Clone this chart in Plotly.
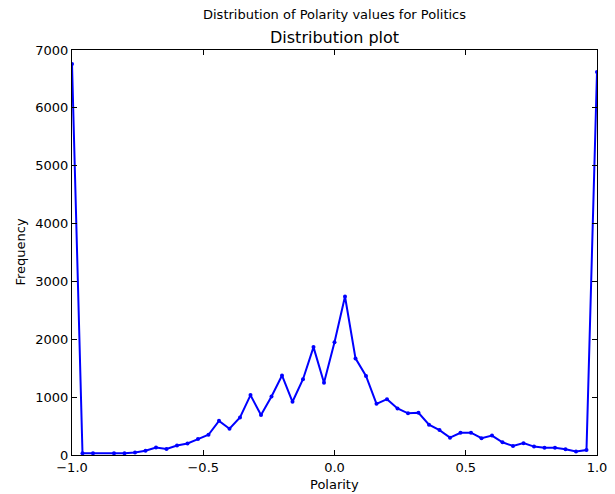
import plotly.graph_objects as go

polarity = [-1.0, -0.96, -0.92, -0.84, -0.80, -0.76, -0.72, -0.68, -0.64, -0.60,
            -0.56, -0.52, -0.48, -0.44, -0.40, -0.36, -0.32, -0.28, -0.24, -0.20,
            -0.16, -0.12, -0.08, -0.04, 0.0, 0.04, 0.08, 0.12, 0.16, 0.20,
            0.24, 0.28, 0.32, 0.36, 0.40, 0.44, 0.48, 0.52, 0.56, 0.60,
            0.64, 0.68, 0.72, 0.76, 0.80, 0.84, 0.88, 0.92, 0.96, 1.0]
frequency = [6760, 30, 30, 30, 30, 45, 75, 130, 105, 165,
             200, 275, 350, 590, 455, 650, 1035, 690, 1010, 1375,
             920, 1310, 1865, 1250, 1950, 2740, 1670, 1365, 885, 965,
             805, 720, 730, 525, 430, 300, 385, 385, 290, 335,
             220, 155, 205, 145, 125, 125, 100, 60, 85, 6620]

x_ticks = [-1.0, -0.5, 0.0, 0.5, 1.0]
y_ticks = [0, 1000, 2000, 3000, 4000, 5000, 6000, 7000]

font = "DejaVu Sans"

fig = go.Figure()
fig.add_trace(go.Scatter(
    x=polarity, y=frequency, mode="lines+markers",
    line=dict(color="#0000ff", width=2),
    marker=dict(color="#0000ff", size=4),
    showlegend=False,
))

axis_common = dict(
    showgrid=False, zeroline=False, showline=True, linecolor="black", linewidth=1,
    mirror="ticks", ticks="inside", ticklen=5, tickcolor="black", automargin=False,
    tickfont=dict(family=font, size=13, color="black"),
)

fig.update_layout(
    width=607, height=486,
    margin=dict(l=64, r=18, t=42, b=39),
    paper_bgcolor="white", plot_bgcolor="white",
    font=dict(family=font, color="black"),
    xaxis=dict(range=[-1, 1], tickvals=x_ticks, tickformat=".1f", **axis_common),
    yaxis=dict(range=[0, 7000], tickvals=y_ticks, **axis_common),
    annotations=[
        dict(text="Distribution of Polarity values for Politics", x=0.5, y=1.0,
             xref="paper", yref="paper", yanchor="bottom", yshift=26, showarrow=False,
             font=dict(family=font, size=13)),
        dict(text="Distribution plot", x=0.5, y=1.0, xref="paper", yref="paper",
             yanchor="bottom", yshift=1, showarrow=False,
             font=dict(family=font, size=16)),
        dict(text="Polarity", x=0.5, y=0, xref="paper", yref="paper",
             yanchor="top", yshift=-20, showarrow=False,
             font=dict(family=font, size=13)),
        dict(text="Frequency", x=0, y=0.5, xref="paper", yref="paper",
             xanchor="center", xshift=-52, textangle=-90, showarrow=False,
             font=dict(family=font, size=13)),
    ],
)

fig.write_html("out.html")
